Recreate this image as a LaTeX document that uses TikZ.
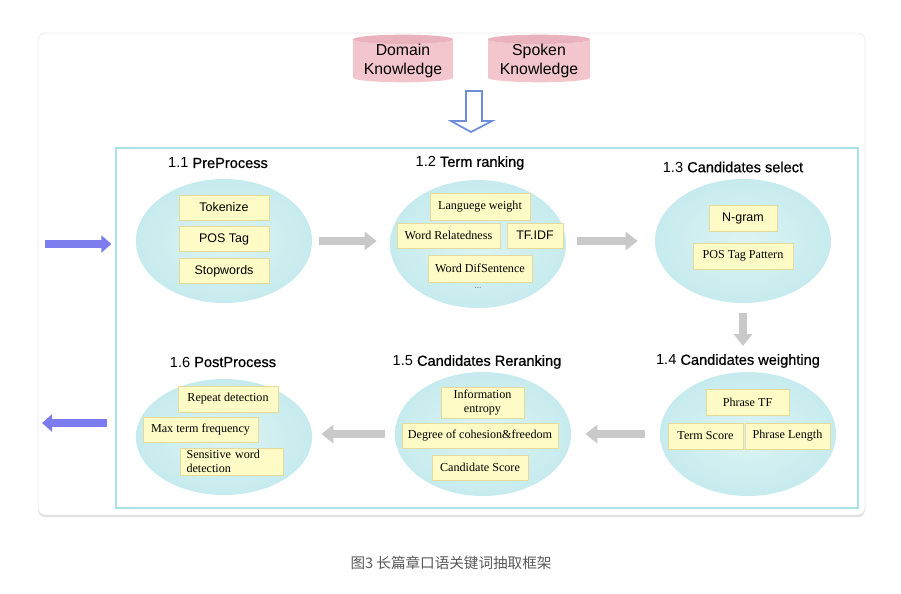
\documentclass[tikz,border=0pt]{standalone}
\usepackage{fontspec}
\setmainfont{Liberation Serif}
\setsansfont{Liberation Sans}
\newfontfamily\semi{Liberation Sans}[FakeBold=0.7]
\newfontfamily\cjk{Noto Sans CJK SC}
\usetikzlibrary{arrows.meta,shapes.geometric,shadows}
\definecolor{StageClr}{HTML}{C6EBEE}
\definecolor{StageInClr}{HTML}{DDF4F4}
\definecolor{BoxClr}{HTML}{FEFBC6}
\definecolor{BoxLineClr}{HTML}{E3DA9C}
\definecolor{FrameClr}{HTML}{A9E1E6}
\definecolor{FlowClr}{HTML}{C9C9C9}
\definecolor{InOutClr}{HTML}{7D7CEE}
\definecolor{KnowClr}{HTML}{F3C6CE}
\definecolor{KnowTopClr}{HTML}{E9B2BD}
\definecolor{HollowClr}{HTML}{6F8ED8}

\tikzset{
  stage/.style={ellipse,minimum width=3.52cm,minimum height=2.48cm,
    inner color=StageInClr,outer color=StageClr},
  item/.style={draw=BoxLineClr,fill=BoxClr,inner sep=0pt,minimum height=0.5cm,
    font=\fontsize{6.9}{7.6}\selectfont},
  sitem/.style={item,font=\sffamily\fontsize{7.1}{8}\selectfont},
  stitle/.style={font=\sffamily\fontsize{8.3}{10}\selectfont},
  know/.style={cylinder,shape border rotate=90,aspect=0.12,minimum width=2cm,
    minimum height=0.88cm,inner sep=0pt,cylinder uses custom fill,
    cylinder body fill=KnowClr,cylinder end fill=KnowTopClr,align=center,
    font=\sffamily\fontsize{9}{10.5}\selectfont},
  flow/.style={draw=FlowClr,line width=4.5pt,-{Triangle[width=10.2pt,length=6.8pt]}},
  inout/.style={draw=InOutClr,line width=4.5pt,-{Triangle[width=9.6pt,length=5.7pt]}}
}

\begin{document}
\begin{tikzpicture}[x=0.02cm,y=-0.02cm]
\useasboundingbox (0,0) rectangle (901,593);

\node[draw=black!8,fill=white,rounded corners=4pt,minimum width=16.54cm,minimum height=9.64cm,
  drop shadow={shadow xshift=0pt,shadow yshift=-1.2pt,opacity=0.25}] (card) at (451.5,274) {};
\node[draw=FrameClr,line width=0.8pt,minimum width=14.84cm,minimum height=7.2cm] (frame) at (487,328) {};

% knowledge sources
\node[know] (domain) at (403,61) {Domain\\Knowledge};
\node[know,minimum width=2.04cm] (spoken) at (539,61) {Spoken\\Knowledge};
\draw[HollowClr,line width=1pt,fill=white]
  (466,91) -- (482,91) -- (482,121) -- (492,121) -- (471,132) -- (451,121) -- (466,121) -- cycle;

% stages
\node[stage] (e1) at (224,241) {};
\node[stage,minimum height=2.56cm] (e2) at (478,244) {};
\node[stage] (e3) at (743,241) {};
\node[stage] (e4) at (748,434) {};
\node[stage] (e5) at (483,434) {};
\node[stage,minimum height=2.32cm] (e6) at (224,437) {};

\node[stitle] (t1) at (218,163) {1.1 {\semi PreProcess}};
\node[stitle] (t2) at (470,163) {1.2 {\semi Term ranking}};
\node[stitle] (t3) at (733,167) {1.3 {\semi Candidates select}};
\node[stitle] (t4) at (738,361) {1.4 {\semi Candidates weighting}};
\node[stitle] (t5) at (477,362) {1.5 {\semi Candidates Reranking}};
\node[stitle] (t6) at (223,362) {1.6 {\semi PostProcess}};

% 1.1
\node[sitem,minimum width=1.8cm] (tok) at (224,207.5) {Tokenize};
\node[sitem,minimum width=1.8cm] (pos) at (224,239) {POS Tag};
\node[sitem,minimum width=1.8cm] (stop) at (224,271) {Stopwords};

% 1.2
\node[item,minimum width=2cm,minimum height=0.54cm] (lang) at (480,206.5) {Languege weight};
\node[item,minimum width=2.06cm] (rel) at (448.5,235.5) {Word Relatedness};
\node[sitem,minimum width=1.12cm] (tfidf) at (535,235.5) {TF.IDF};
\node[item,minimum width=2.08cm,minimum height=0.54cm] (dif) at (480,268.5) {Word DifSentence};
\node[font=\sffamily\fontsize{5}{6}\selectfont,text=black!60] (more) at (478,288) {...};

% 1.3
\node[sitem,minimum width=1.36cm,minimum height=0.52cm] (ngram) at (743,218) {N{-}gram};
\node[item,minimum width=2cm,minimum height=0.52cm] (pattern) at (743,256) {POS Tag Pattern};

% 1.4
\node[item,minimum width=1.66cm,minimum height=0.52cm] (ptf) at (747.5,402) {Phrase TF};
\node[item,minimum width=1.5cm,minimum height=0.52cm] (tscore) at (705.5,436) {Term Score};
\node[item,minimum width=1.7cm,minimum height=0.52cm] (plen) at (787.5,436) {Phrase Length};

% 1.5
\node[item,minimum width=1.66cm,minimum height=0.62cm,align=center] (entropy) at (482.5,402.5) {Information\\entropy};
\node[item,minimum width=3.12cm] (cohesion) at (480,435.5) {Degree of cohesion\&freedom};
\node[item,minimum width=1.92cm] (cscore) at (480,467.5) {Candidate Score};

% 1.6
\node[item,minimum width=2cm,minimum height=0.52cm] (repeat) at (228,399) {Repeat detection};
\node[item,minimum width=2.3cm] (maxtf) at (200.5,429.5) {Max term frequency};
\node[item,minimum width=2.06cm,minimum height=0.54cm,align=left,text width=1.8cm] (sens) at (231.5,461.5) {Sensitive word\\detection};

% flow
\draw[flow,shorten <=0.14cm,shorten >=0.26cm] (e1.east) -- (e2.west |- e1.east);
\draw[flow,shorten <=0.22cm,shorten >=0.34cm] (e2.east |- e3.west) -- (e3.west);
\draw[flow,shorten <=0.2cm,shorten >=0.04cm] (e3.south) -- (e3.south |- t4.north);
\draw[flow,shorten <=0.3cm,shorten >=0.28cm] (e4.west) -- (e5.east);
\draw[flow,shorten <=0.2cm,shorten >=0.18cm] (e5.west) -- (e6.east |- e5.west);

\coordinate (in) at (45,244);
\coordinate (out) at (42,423);
\draw[inout,shorten >=0.08cm] (in) -- (frame.west |- in);
\draw[inout,shorten <=0.16cm] (frame.west |- out) -- (out);

\node[font=\cjk\fontsize{8.3}{10}\selectfont,text=black!65] (caption) at (451,563) {图3 长篇章口语关键词抽取框架};

\end{tikzpicture}
\end{document}
